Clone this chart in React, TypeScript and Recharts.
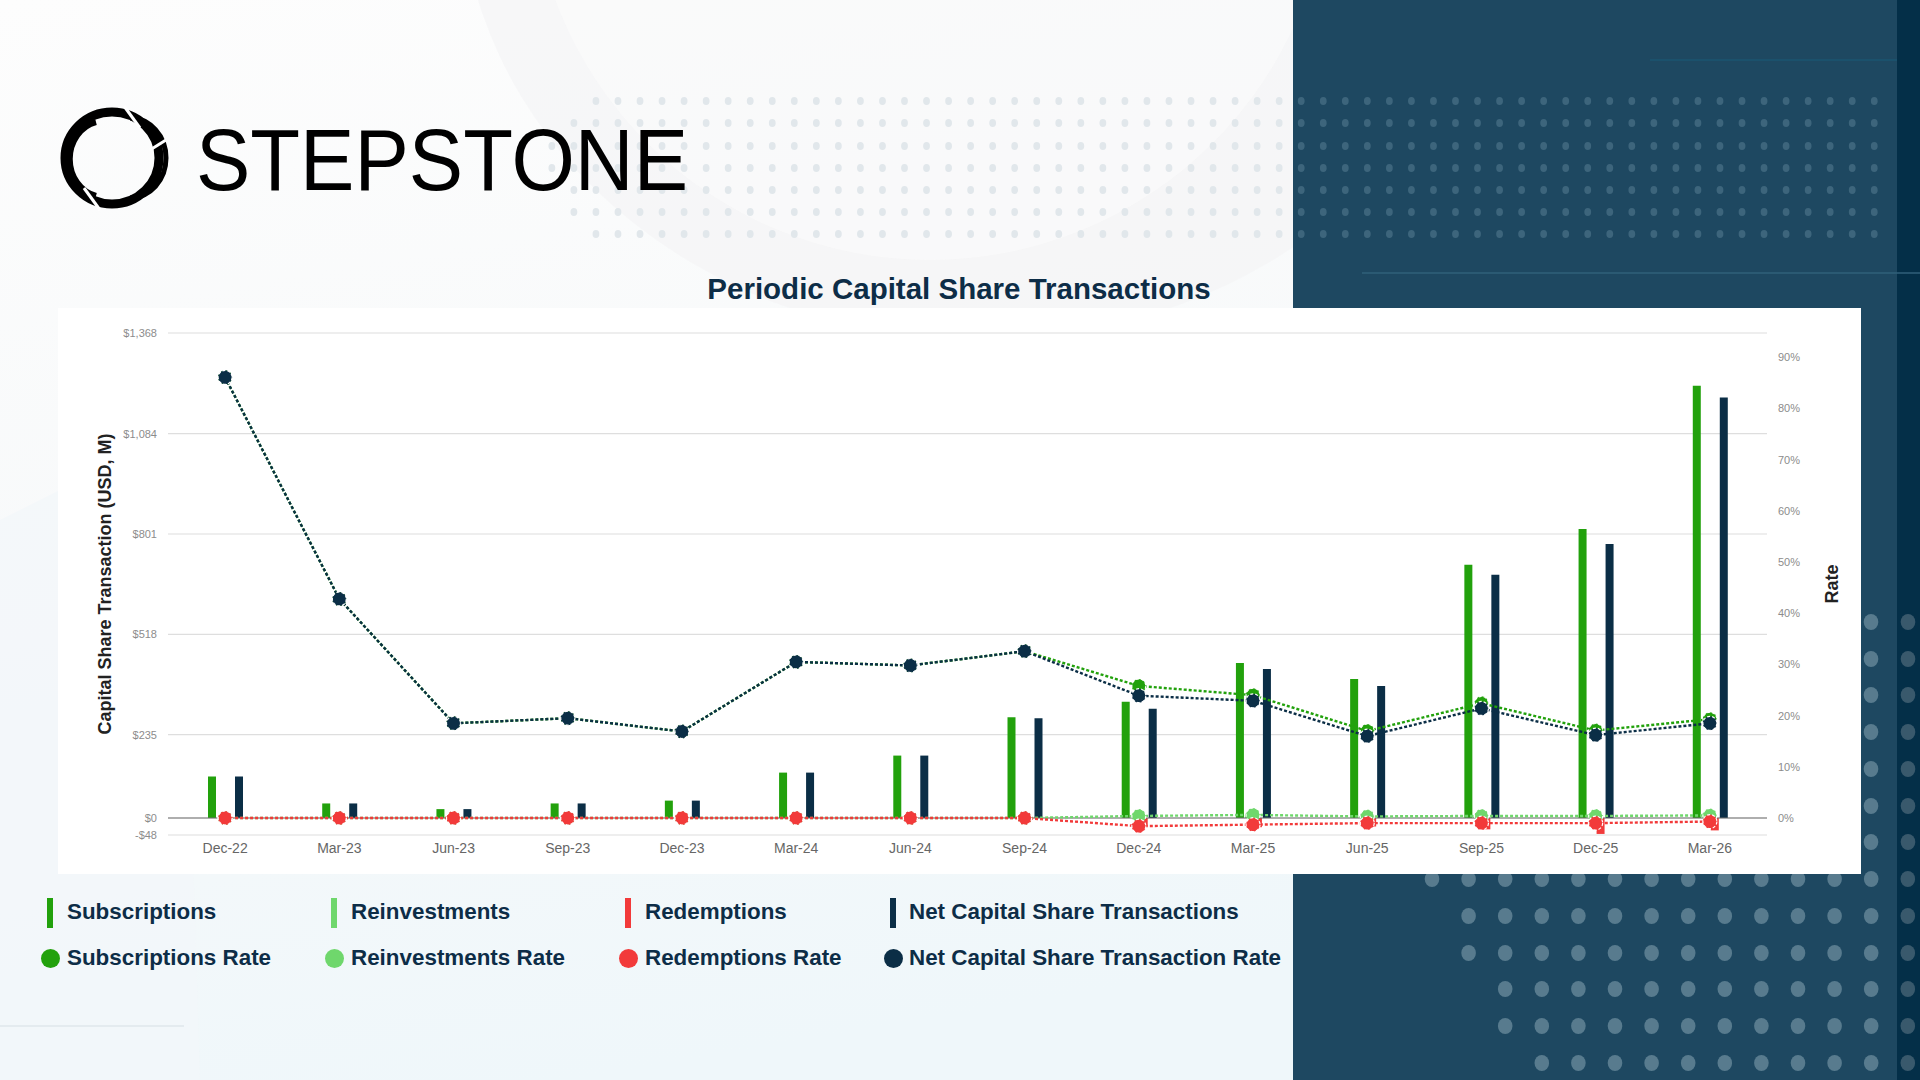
import React from 'react';
import {
  ComposedChart,
  Bar,
  Line,
  XAxis,
  YAxis,
  CartesianGrid,
  ReferenceLine,
} from 'recharts';

// quarter-end periods
const quarters = [
  'Dec-22', 'Mar-23', 'Jun-23', 'Sep-23', 'Dec-23', 'Mar-24', 'Jun-24',
  'Sep-24', 'Dec-24', 'Mar-25', 'Jun-25', 'Sep-25', 'Dec-25', 'Mar-26',
];

// USD, M
const subscriptions = [117, 41, 25, 41, 49, 128, 176, 284, 328, 437, 392, 714, 815, 1219];
const reinvestments = [0, 0, 0, 0, 0, 0, 0, 0, 4, 9, 5, 8, 10, 12];
const redemptions = [0, 0, 0, 0, 0, 0, 0, 0, -22, -26, -24, -32, -45, -35];
const netTransactions = [117, 41, 25, 41, 49, 128, 176, 281, 308, 420, 372, 686, 773, 1186];

// rates, %
const subscriptionsRate = [86.1, 42.8, 18.5, 19.5, 16.9, 30.5, 29.8, 32.6, 25.8, 24.0, 17.0, 22.4, 17.1, 19.3];
const reinvestmentsRate = [0, 0, 0, 0, 0, 0, 0, 0, 0.4, 0.6, 0.3, 0.4, 0.4, 0.5];
const redemptionsRate = [0, 0, 0, 0, 0, 0, 0, 0, -1.6, -1.3, -1.0, -1.0, -1.0, -0.7];
const netRate = [86.1, 42.8, 18.5, 19.5, 16.9, 30.5, 29.8, 32.6, 23.9, 22.9, 16.0, 21.4, 16.2, 18.5];

const usdTicks = [-48, 0, 235, 518, 801, 1084, 1368];
const rateTicks = [0, 10, 20, 30, 40, 50, 60, 70, 80, 90];

const GREEN = '#22a10c';
const LIGHT_GREEN = '#6fd76c';
const RED = '#f23a3a';
const NAVY = '#0b2e46';
const TEXT_NAVY = '#0d2d47';
const FONT = '"Liberation Sans", Arial, Helvetica, sans-serif';

const rows = quarters.map((quarter, i) => ({
  quarter,
  subscriptions: subscriptions[i],
  reinvestments: reinvestments[i],
  redemptions: redemptions[i],
  net: netTransactions[i],
  subscriptionsRate: subscriptionsRate[i],
  reinvestmentsRate: reinvestmentsRate[i],
  redemptionsRate: redemptionsRate[i],
  netRate: netRate[i],
}));

const barLegend = [
  { label: 'Subscriptions', color: GREEN, x: 50, tx: 67 },
  { label: 'Reinvestments', color: LIGHT_GREEN, x: 334, tx: 351 },
  { label: 'Redemptions', color: RED, x: 628, tx: 645 },
  { label: 'Net Capital Share Transactions', color: NAVY, x: 893, tx: 909 },
];
const rateLegend = [
  { label: 'Subscriptions Rate', color: GREEN, x: 50, tx: 67 },
  { label: 'Reinvestments Rate', color: LIGHT_GREEN, x: 334, tx: 351 },
  { label: 'Redemptions Rate', color: RED, x: 628, tx: 645 },
  { label: 'Net Capital Share Transaction Rate', color: NAVY, x: 893, tx: 909 },
];

function formatUsd(v: number) {
  const s = '$' + Math.abs(v).toLocaleString('en-US');
  return v < 0 ? '-' + s : s;
}

function AxisTitle({ viewBox, text, dx }: any) {
  const cx = viewBox.x + dx;
  const cy = viewBox.y + viewBox.height / 2;
  return (
    <text
      x={cx}
      y={cy}
      transform={`rotate(-90 ${cx} ${cy})`}
      textAnchor="middle"
      dominantBaseline="central"
      fontFamily={FONT}
      fontWeight={700}
      fontSize={18}
      fill="#222"
    >
      {text}
    </text>
  );
}

function Backdrop() {
  const smallRows = [101, 123, 146, 168, 190, 212, 234];
  const smallStart = [1, 0, -1, -1, 0, 0, 1];
  const small: JSX.Element[] = [];
  smallRows.forEach((y, r) => {
    for (let k = smallStart[r]; k < 60; k++) {
      const x = 573.9 + k * 22.04;
      if (x > 1892) break;
      small.push(
        <ellipse key={`s${r}-${k}`} cx={x} cy={y} rx={3.4} ry={3.9}
          fill={x < 1293 ? '#e1e7eb' : '#3d657c'} />
      );
    }
  });

  const bigRows = [879, 916, 953, 989, 1026, 1063];
  const bigStart = [0, 1, 1, 2, 2, 3];
  const big: JSX.Element[] = [];
  bigRows.forEach((y, r) => {
    for (let k = bigStart[r]; k < 14; k++) {
      const x = 1432 + k * 36.6;
      big.push(
        <ellipse key={`b${r}-${k}`} cx={x} cy={y} rx={7.3} ry={8}
          fill={x > 1897 ? '#39596c' : '#587b8e'} />
      );
    }
  });
  [622, 659, 695, 732, 769, 806, 842].forEach((y, r) => {
    [1871, 1908].forEach((x, c) => {
      big.push(
        <ellipse key={`r${r}-${c}`} cx={x} cy={y} rx={7.3} ry={8}
          fill={x > 1897 ? '#39596c' : '#587b8e'} />
      );
    });
  });

  return (
    <svg width={1920} height={1080} style={{ position: 'absolute', left: 0, top: 0 }}>
      <defs>
        <linearGradient id="pageBg" x1="0" y1="0" x2="0.3" y2="1">
          <stop offset="0" stopColor="#fdfdfd" />
          <stop offset="0.55" stopColor="#f7f9fa" />
          <stop offset="1" stopColor="#eff7fa" />
        </linearGradient>
      </defs>
      <rect x={0} y={0} width={1920} height={1080} fill="url(#pageBg)" />
      <ellipse cx={980} cy={-120} rx={520} ry={460} fill="#f3f4f5" opacity={0.6} />
      <ellipse cx={930} cy={-140} rx={400} ry={400} fill="#fafafa" opacity={0.8} />
      <path d="M 0 520 L 180 430 L 200 1080 L 0 1080 Z" fill="#f2f7f9" opacity={0.7} />
      <line x1={0} y1={1026} x2={184} y2={1026} stroke="#dfe7eb" strokeWidth={1.5} />
      <rect x={1293} y={0} width={627} height={1080} fill="#1e4861" />
      <rect x={1897} y={0} width={23} height={1080} fill="#042f48" />
      <line x1={1650} y1={60} x2={1897} y2={60} stroke="#1b5470" strokeWidth={1.5} />
      <line x1={1362} y1={273} x2={1920} y2={273} stroke="#30607a" strokeWidth={1.5} />
      {small}
      {big}
      {/* logo mark */}
      <g fill="none" stroke="#000">
        <ellipse cx={112} cy={158} rx={47} ry={46} strokeWidth={9} />
        <path d="M 96 122 A 34 38 0 0 0 96 196" strokeWidth={6} />
        <path d="M 130 118 A 36 40 0 0 1 130 198" strokeWidth={5} />
      </g>
      <g stroke="#ffffff" strokeWidth={3}>
        <line x1={124} y1={106} x2={140} y2={128} />
        <line x1={84} y1={188} x2={100} y2={210} />
        <line x1={150} y1={150} x2={166} y2={140} />
      </g>
      <text x={196} y={190} fontFamily={FONT} fontSize={88} fill="#000"
        textLength={492} lengthAdjust="spacingAndGlyphs">
        STEPSTONE
      </text>
    </svg>
  );
}

export default function App() {
  return (
    <div style={{ position: 'absolute', left: 0, top: 0, width: 1920, height: 1080, overflow: 'hidden', fontFamily: FONT }}>
      <Backdrop />
      <div style={{ position: 'absolute', left: 58, top: 308, width: 1803, height: 566, background: '#ffffff' }} />
      <div
        style={{
          position: 'absolute', left: 0, top: 271, width: 1918, textAlign: 'center',
          fontSize: 29.5, fontWeight: 700, color: TEXT_NAVY, lineHeight: '36px',
        }}
      >
        Periodic Capital Share Transactions
      </div>
      <div style={{ position: 'absolute', left: 0, top: 0 }}>
        <ComposedChart
          width={1920}
          height={1080}
          data={rows}
          margin={{ top: 333, right: 93, bottom: 215, left: 108 }}
          barGap={1}
        >
          <CartesianGrid yAxisId="usd" vertical={false} stroke="#dedede" strokeWidth={1.2} />
          <XAxis
            dataKey="quarter"
            height={30}
            axisLine={false}
            tickLine={false}
            tickSize={0}
            tickMargin={8}
            tick={{ fontSize: 14, fill: '#666', fontFamily: FONT }}
            interval={0}
          />
          <YAxis
            yAxisId="usd"
            orientation="left"
            width={60}
            domain={[-48, 1368]}
            ticks={usdTicks}
            allowDataOverflow
            axisLine={false}
            tickLine={false}
            tickSize={0}
            tickMargin={11}
            tickFormatter={formatUsd}
            tick={{ fontSize: 11, fill: '#8c8c8c', fontFamily: FONT }}
            label={<AxisTitle text="Capital Share Transaction (USD, M)" dx={-3} />}
          />
          <YAxis
            yAxisId="rate"
            orientation="right"
            width={60}
            domain={[-3.325, 94.77]}
            ticks={rateTicks}
            allowDataOverflow
            axisLine={false}
            tickLine={false}
            tickSize={0}
            tickMargin={11}
            tickFormatter={(v: number) => `${v}%`}
            tick={{ fontSize: 11, fill: '#8c8c8c', fontFamily: FONT }}
            label={<AxisTitle text="Rate" dx={65} />}
          />
          <ReferenceLine yAxisId="usd" y={0} stroke="#6e6e6e" strokeWidth={1.2} />
          <Bar yAxisId="usd" dataKey="subscriptions" fill={GREEN} barSize={8} isAnimationActive={false} />
          <Bar yAxisId="usd" dataKey="reinvestments" fill={LIGHT_GREEN} barSize={8} isAnimationActive={false} />
          <Bar yAxisId="usd" dataKey="redemptions" fill={RED} barSize={8} isAnimationActive={false} />
          <Bar yAxisId="usd" dataKey="net" fill={NAVY} barSize={8} isAnimationActive={false} />
          <Line
            yAxisId="rate" dataKey="subscriptionsRate" stroke={GREEN} strokeWidth={2.4}
            strokeDasharray="3 2" dot={{ r: 7, fill: GREEN, stroke: '#fff', strokeWidth: 1.2 }}
            activeDot={false} isAnimationActive={false}
          />
          <Line
            yAxisId="rate" dataKey="reinvestmentsRate" stroke={LIGHT_GREEN} strokeWidth={2.4}
            strokeDasharray="3 2" dot={{ r: 7, fill: LIGHT_GREEN, stroke: '#fff', strokeWidth: 1.2 }}
            activeDot={false} isAnimationActive={false}
          />
          <Line
            yAxisId="rate" dataKey="redemptionsRate" stroke={RED} strokeWidth={2.4}
            strokeDasharray="3 2" dot={{ r: 7, fill: RED, stroke: '#fff', strokeWidth: 1.2 }}
            activeDot={false} isAnimationActive={false}
          />
          <Line
            yAxisId="rate" dataKey="netRate" stroke={NAVY} strokeWidth={2.4}
            strokeDasharray="3 2" dot={{ r: 7, fill: NAVY, stroke: '#fff', strokeWidth: 1.2 }}
            activeDot={false} isAnimationActive={false}
          />
        </ComposedChart>
      </div>
      {barLegend.map((item) => (
        <React.Fragment key={item.label}>
          <div style={{ position: 'absolute', left: item.x - 3, top: 898, width: 6, height: 30, background: item.color }} />
          <div style={{ position: 'absolute', left: item.tx, top: 899, fontSize: 22.4, fontWeight: 700, color: TEXT_NAVY, lineHeight: '26px', whiteSpace: 'nowrap' }}>
            {item.label}
          </div>
        </React.Fragment>
      ))}
      {rateLegend.map((item) => (
        <React.Fragment key={item.label}>
          <div style={{ position: 'absolute', left: item.x - 9.5, top: 948.5, width: 19, height: 19, borderRadius: 9.5, background: item.color }} />
          <div style={{ position: 'absolute', left: item.tx, top: 945, fontSize: 22.4, fontWeight: 700, color: TEXT_NAVY, lineHeight: '26px', whiteSpace: 'nowrap' }}>
            {item.label}
          </div>
        </React.Fragment>
      ))}
    </div>
  );
}
